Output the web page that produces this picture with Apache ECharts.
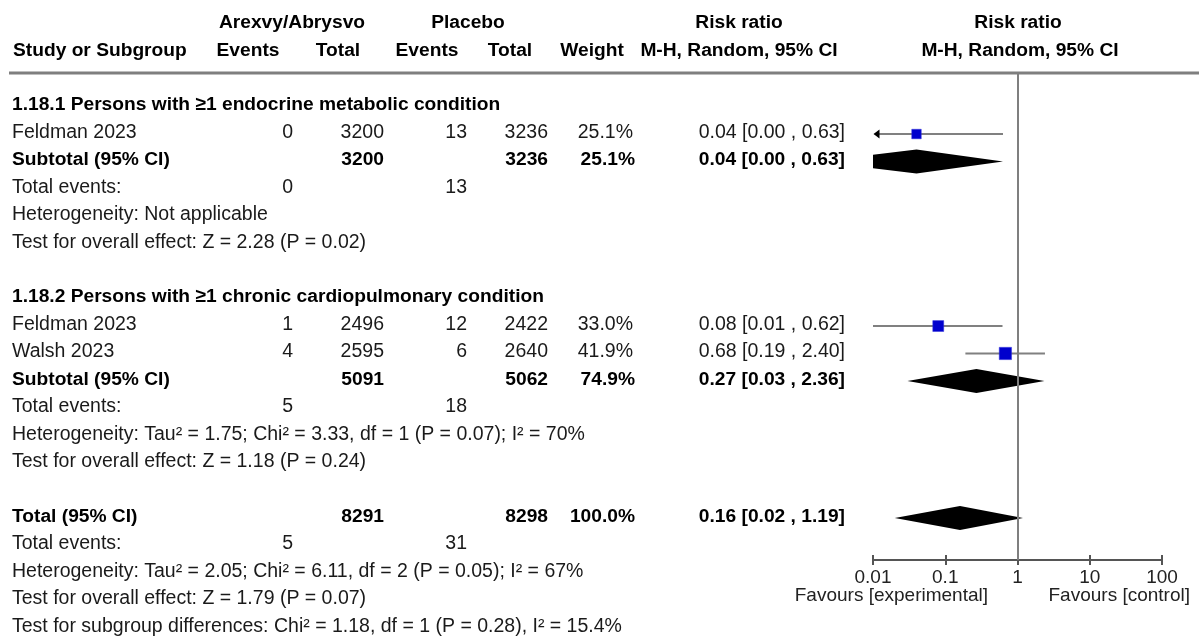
<!DOCTYPE html>
<html><head><meta charset="utf-8">
<script src="https://cdn.jsdelivr.net/npm/echarts@6/dist/echarts.min.js"></script>
<style>html,body{margin:0;padding:0;background:#fff}#c{width:1199px;height:637px}</style>
</head><body><div id="c"></div>
<script>
// ---------------- data ----------------
const headerGroups = ['Arexvy/Abrysvo', 'Placebo', 'Risk ratio', 'Risk ratio'];
const headerColumns = ['Study or Subgroup', 'Events', 'Total', 'Events', 'Total', 'Weight', 'M-H, Random, 95% CI', 'M-H, Random, 95% CI'];
const subgroupTitles = ['1.18.1 Persons with \u22651 endocrine metabolic condition', '1.18.2 Persons with \u22651 chronic cardiopulmonary condition'];

const studyNames = ['Feldman 2023', 'Feldman 2023', 'Walsh 2023'];
const studySubgroup = [0, 1, 1];
const studyExpEvents = [0, 1, 4];
const studyExpTotal = [3200, 2496, 2595];
const studyCtlEvents = [13, 12, 6];
const studyCtlTotal = [3236, 2422, 2640];
const studyWeight = [25.1, 33.0, 41.9];
const studyRR = [0.04, 0.08, 0.68];
const studyLow = [0.0016, 0.01, 0.19];
const studyHigh = [0.63, 0.62, 2.40];

const subExpEvents = [0, 5];
const subCtlEvents = [13, 18];
const subExpTotal = [3200, 5091];
const subCtlTotal = [3236, 5062];
const subWeight = [25.1, 74.9];
const subRR = [0.04, 0.27];
const subLow = [0.0016, 0.03];
const subHigh = [0.63, 2.36];
const subHeterogeneity = ['Heterogeneity: Not applicable', 'Heterogeneity: Tau\u00b2 = 1.75; Chi\u00b2 = 3.33, df = 1 (P = 0.07); I\u00b2 = 70%'];
const subOverall = ['Test for overall effect: Z = 2.28 (P = 0.02)', 'Test for overall effect: Z = 1.18 (P = 0.24)'];

const totalExpEvents = [5];
const totalCtlEvents = [31];
const totalExpTotal = [8291];
const totalCtlTotal = [8298];
const totalWeight = [100.0];
const totalRR = [0.16];
const totalLow = [0.02];
const totalHigh = [1.19];
const totalHeterogeneity = 'Heterogeneity: Tau\u00b2 = 2.05; Chi\u00b2 = 6.11, df = 2 (P = 0.05); I\u00b2 = 67%';
const totalOverall = 'Test for overall effect: Z = 1.79 (P = 0.07)';
const subgroupDifferences = 'Test for subgroup differences: Chi\u00b2 = 1.18, df = 1 (P = 0.28), I\u00b2 = 15.4%';

const axisTicks = [0.01, 0.1, 1, 10, 100];
const axisTickLabels = ['0.01', '0.1', '1', '10', '100'];
const favourLabels = ['Favours [experimental]', 'Favours [control]'];

// ---------------- layout ----------------
const FONT = '"Liberation Sans", Arial, Helvetica, sans-serif';
const FS = 19.5;
const FSB = 19.2;
const FSA = 19;
const ROW0 = 106.6, ROWH = 27.43;
const GRID_TOP = 73, GRID_BOTTOM_PX = 560;
const yMin = (GRID_TOP - ROW0) / ROWH;
const yMax = (GRID_BOTTOM_PX - ROW0) / ROWH;
const col = { label: 12, ev1: 293, tot1: 384, ev2: 467, tot2: 548, w: 633, ci: 845 };
const fmtCI = (r, l, h) => r.toFixed(2) + ' [' + l.toFixed(2) + ' , ' + h.toFixed(2) + ']';

const graphics = [];
function txt(s, x, y, align, bold, color, size) {
  graphics.push({ type: 'text', silent: true, style: {
    text: String(s), x: x, y: y, textAlign: align || 'left', textVerticalAlign: 'middle',
    font: (bold ? 'bold ' + FSB : (size || FS)) + 'px ' + FONT, fill: color || (bold ? '#000' : '#1a1a1a') } });
}
const textY = r => ROW0 + ROWH * r - 1.5;

// header
const hy1 = textY(-3), hy2 = textY(-2);
txt(headerGroups[0], 292, hy1, 'center', true);
txt(headerGroups[1], 468, hy1, 'center', true);
txt(headerGroups[2], 739, hy1, 'center', true);
txt(headerGroups[3], 1018, hy1, 'center', true);
txt(headerColumns[0], 13, hy2, 'left', true);
txt(headerColumns[1], 248, hy2, 'center', true);
txt(headerColumns[2], 338, hy2, 'center', true);
txt(headerColumns[3], 427, hy2, 'center', true);
txt(headerColumns[4], 510, hy2, 'center', true);
txt(headerColumns[5], 592, hy2, 'center', true);
txt(headerColumns[6], 739, hy2, 'center', true);
txt(headerColumns[7], 1020, hy2, 'center', true);
graphics.push({ type: 'line', silent: true, shape: { x1: 9, y1: GRID_TOP, x2: 1199, y2: GRID_TOP }, style: { stroke: '#7f7f7f', lineWidth: 3 } });

// rows
const studyPoints = [];
const diamondPoints = [];
let row = 0;
subgroupTitles.forEach((title, g) => {
  txt(title, col.label, textY(row), 'left', true); row++;
  studyNames.forEach((name, k) => {
    if (studySubgroup[k] !== g) return;
    const y = textY(row);
    txt(name, col.label, y);
    txt(studyExpEvents[k], col.ev1, y, 'right');
    txt(studyExpTotal[k], col.tot1, y, 'right');
    txt(studyCtlEvents[k], col.ev2, y, 'right');
    txt(studyCtlTotal[k], col.tot2, y, 'right');
    txt(studyWeight[k].toFixed(1) + '%', col.w, y, 'right');
    txt(fmtCI(studyRR[k], studyLow[k], studyHigh[k]), col.ci, y, 'right');
    studyPoints.push([studyRR[k], row, studyLow[k], studyHigh[k], studyWeight[k]]);
    row++;
  });
  let y = textY(row);
  txt('Subtotal (95% CI)', col.label, y, 'left', true);
  txt(subExpTotal[g], col.tot1, y, 'right', true);
  txt(subCtlTotal[g], col.tot2, y, 'right', true);
  txt(subWeight[g].toFixed(1) + '%', col.w + 2, y, 'right', true);
  txt(fmtCI(subRR[g], subLow[g], subHigh[g]), col.ci, y, 'right', true);
  diamondPoints.push([subRR[g], row, subLow[g], subHigh[g]]);
  row++;
  y = textY(row);
  txt('Total events:', col.label, y);
  txt(subExpEvents[g], col.ev1, y, 'right');
  txt(subCtlEvents[g], col.ev2, y, 'right');
  row++;
  txt(subHeterogeneity[g], col.label, textY(row)); row++;
  txt(subOverall[g], col.label, textY(row)); row++;
  row++; // blank
});
let y = textY(row);
txt('Total (95% CI)', col.label, y, 'left', true);
txt(totalExpTotal[0], col.tot1, y, 'right', true);
txt(totalCtlTotal[0], col.tot2, y, 'right', true);
txt(totalWeight[0].toFixed(1) + '%', col.w + 2, y, 'right', true);
txt(fmtCI(totalRR[0], totalLow[0], totalHigh[0]), col.ci, y, 'right', true);
diamondPoints.push([totalRR[0], row, totalLow[0], totalHigh[0]]);
row++;
y = textY(row);
txt('Total events:', col.label, y);
txt(totalExpEvents[0], col.ev1, y, 'right');
txt(totalCtlEvents[0], col.ev2, y, 'right');
row++;
txt(totalHeterogeneity, col.label, textY(row)); row++;
txt(totalOverall, col.label, textY(row)); row++;
txt(subgroupDifferences, col.label, textY(row)); row++;

// favours labels
txt(favourLabels[0], 988, 596, 'right', false, '#222', FSA);
txt(favourLabels[1], 1190, 596, 'right', false, '#222', FSA);

// ---------------- chart ----------------
const chart = echarts.init(document.getElementById('c'), null, { renderer: 'canvas' });
const axisBase = {
  type: 'log', logBase: 10, min: axisTicks[0], max: axisTicks[axisTicks.length - 1],
  position: 'bottom', offset: 0, splitLine: { show: false }, minorTick: { show: false }
};
chart.setOption({
  animation: false,
  backgroundColor: '#fff',
  grid: { left: 873, right: 37, top: GRID_TOP, bottom: 637 - GRID_BOTTOM_PX, containLabel: false },
  xAxis: [
    Object.assign({}, axisBase, {
      axisLine: { show: true, onZero: false, lineStyle: { color: '#555', width: 2 } },
      axisTick: { show: true, length: 5, lineStyle: { color: '#555', width: 2 } },
      axisLabel: { fontSize: FSA, fontFamily: FONT, color: '#222', margin: 8,
        formatter: v => { const i = axisTicks.findIndex(t => Math.abs(Math.log10(t) - Math.log10(v)) < 1e-6); return i >= 0 ? axisTickLabels[i] : ''; } }
    }),
    Object.assign({}, axisBase, {
      axisLine: { show: false, onZero: false },
      axisTick: { show: true, inside: true, length: 5, lineStyle: { color: '#555', width: 2 } },
      axisLabel: { show: false }
    })
  ],
  yAxis: { type: 'value', inverse: true, min: yMin, max: yMax, show: false },
  series: [
    {
      type: 'custom', name: 'studies', clip: true, xAxisIndex: 0,
      data: studyPoints,
      renderItem: (params, api) => {
        const rr = api.value(0), r = api.value(1), lo = api.value(2), hi = api.value(3), w = api.value(4);
        const c = api.coord([rr, r]), pl = api.coord([lo, r]), ph = api.coord([hi, r]);
        const xmin = params.coordSys.x;
        const size = 1.9 * Math.sqrt(w);
        const children = [];
        const clipped = pl[0] < xmin;
        children.push({ type: 'line', shape: { x1: clipped ? xmin + 4 : pl[0], y1: c[1], x2: ph[0], y2: c[1] }, style: { stroke: '#808080', lineWidth: 2 } });
        if (clipped) {
          children.push({ type: 'polygon', shape: { points: [[xmin + 0.5, c[1]], [xmin + 6.5, c[1] - 4.5], [xmin + 6.5, c[1] + 4.5]] }, style: { fill: '#000' } });
        }
        children.push({ type: 'rect', shape: { x: c[0] - size / 2, y: c[1] - size / 2, width: size, height: size }, style: { fill: '#0000CD', stroke: '#3333dd', lineWidth: 0.5 } });
        return { type: 'group', children: children };
      },
      markLine: {
        silent: true, symbol: 'none', label: { show: false },
        lineStyle: { color: '#7f7f7f', width: 2, type: 'solid' },
        data: [{ xAxis: 1 }]
      }
    },
    {
      type: 'custom', name: 'pooled', clip: true, xAxisIndex: 0,
      data: diamondPoints,
      renderItem: (params, api) => {
        const rr = api.value(0), r = api.value(1), lo = api.value(2), hi = api.value(3);
        const c = api.coord([rr, r]), pl = api.coord([lo, r]), ph = api.coord([hi, r]);
        const h = 12;
        return { type: 'polygon', shape: { points: [[pl[0], c[1]], [c[0], c[1] - h], [ph[0], c[1]], [c[0], c[1] + h]] }, style: { fill: '#000' } };
      }
    }
  ],
  graphic: graphics
});
</script>
</body></html>
